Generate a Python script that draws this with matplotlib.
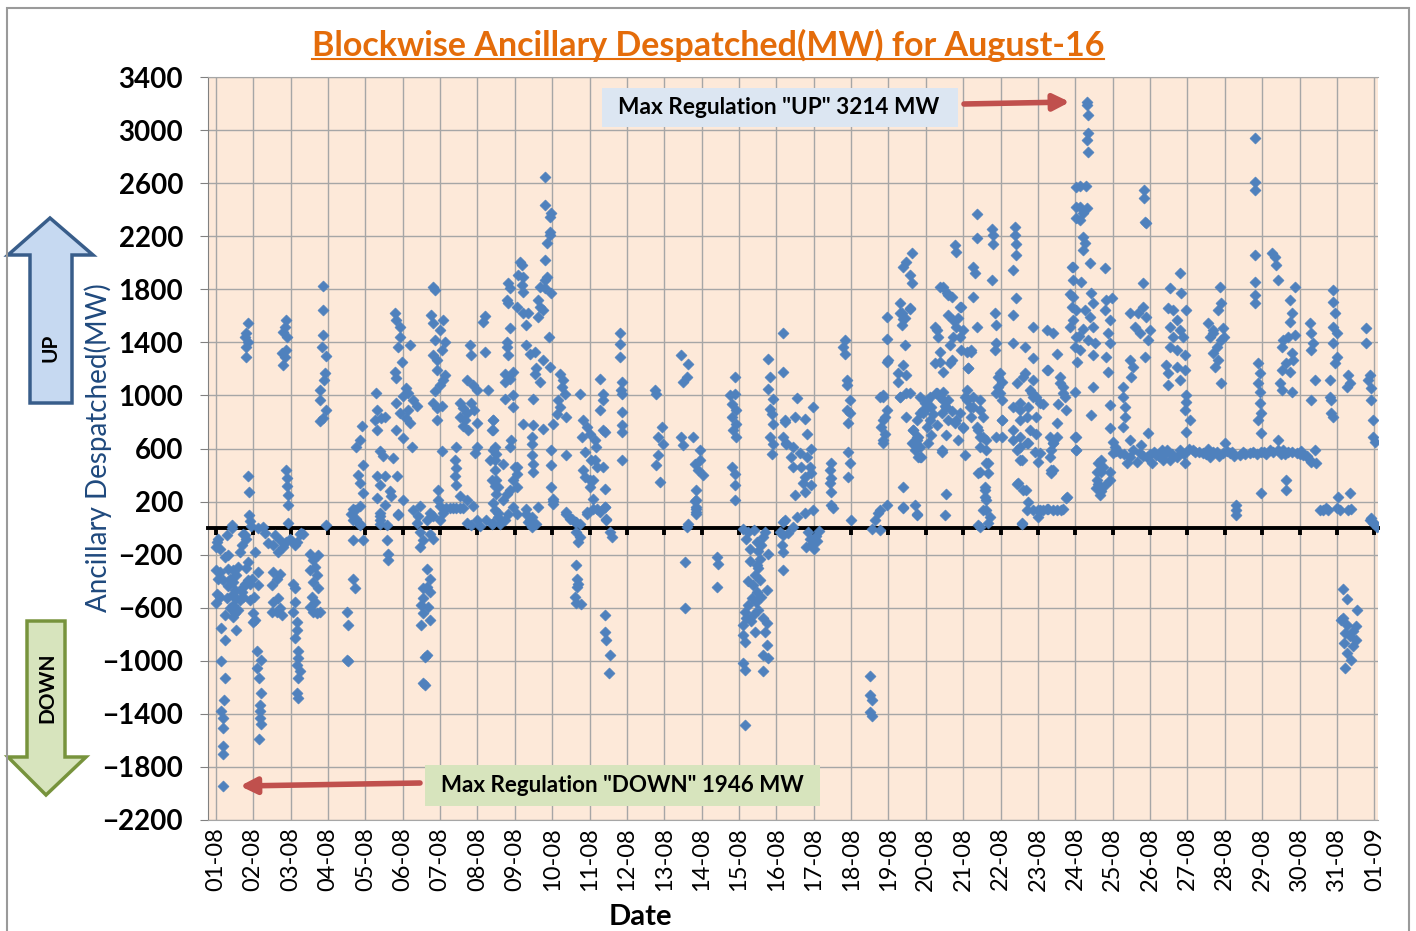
import numpy as np
import matplotlib.pyplot as plt
from matplotlib.patches import Polygon, Rectangle
from matplotlib.lines import Line2D
from matplotlib.transforms import IdentityTransform

plt.rcParams['font.family'] = ['Lato', 'DejaVu Sans']

# (position in days from 01-08, despatched MW)
aug01_07 = [
    (0.02, -105), (0.0, -143), (0.06, -80), (0.29, -55), (0.42, 20), (0.24, -218), (0.73, -43), (0.69, -130),
    (0.64, -180), (0.82, -80), (0.0, -318), (0.11, -330), (0.33, -305), (0.46, -318), (0.55, -355), (0.60, -293),
    (0.06, -380), (0.20, -393), (0.38, -380), (0.46, -405), (0.73, -443), (0.78, -418), (0.69, -480), (0.87, -393),
    (0.91, -418), (0.96, -380), (0.02, -493), (0.11, -518), (0.0, -568), (0.29, -530), (0.42, -505), (0.55, -530),
    (0.46, -580), (0.64, -543), (0.73, -518), (0.91, -543), (0.24, -655), (0.51, -643), (0.46, -668), (0.55, -768),
    (0.15, -755), (0.24, -843), (0.15, -1005), (0.24, -1130), (0.21, -1293), (0.15, -1380), (0.18, -1430),
    (0.20, -1505), (0.20, -1643), (0.20, -1705), (0.20, -1946), (0.33, -440), (0.38, -600), (0.51, -470),
    (0.60, -620), (0.82, -300), (0.87, -255), (0.11, -160), (0.33, -200),
    (0.87, 1544), (0.82, 1469), (0.78, 1444), (0.87, 1406), (0.82, 1368), (0.80, 1293), (0.87, 389), (0.89, 271),
    (0.89, 100), (0.91, 50), (0.95, 13), (0.42, 0), (0.78, -50),
    (1.0, -643), (1.04, -693), (1.0, -705), (1.11, -930), (1.22, -993), (1.11, -1055), (1.16, -1130), (1.22, -1243),
    (1.18, -1330), (1.18, -1380), (1.18, -1430), (1.20, -1480), (1.16, -1593), (1.54, -330), (1.63, -380),
    (1.71, -343), (1.49, -430), (1.67, -530), (1.54, -555), (1.71, -605), (1.63, -630), (1.76, -655), (1.49, -630),
    (1.58, -55), (1.71, -93), (1.89, -105), (1.54, -130), (1.67, -180), (1.80, -143), (1.98, -80), (2.11, -130),
    (2.25, -43), (2.16, -105), (1.04, -180), (1.13, -330), (1.13, -430), (1.02, -520), (1.31, -40), (1.40, -110),
    (1.87, 1569), (1.85, 1519), (1.80, 1481), (1.91, 1444), (1.78, 1318), (1.85, 1293), (1.80, 1230), (1.87, 1343),
    (1.89, 439), (1.91, 377), (1.91, 314), (1.94, 251), (1.94, 176), (1.94, 38), (1.13, 0), (1.27, 10), (2.29, -38),
    (2.07, -418), (2.11, -455), (2.11, -555), (2.07, -630), (2.16, -705), (2.16, -768), (2.11, -830), (2.20, -930),
    (2.20, -980), (2.16, -1030), (2.25, -1080), (2.20, -1130), (2.16, -1243), (2.20, -1280), (2.52, -193),
    (2.61, -243), (2.74, -205), (2.65, -293), (2.52, -318), (2.70, -355), (2.61, -405), (2.74, -455), (2.56, -518),
    (2.65, -555), (2.52, -593), (2.61, -630), (2.70, -643), (2.79, -630), (2.34, -43), (2.96, 25),
    (2.87, 1825), (2.86, 1645), (2.86, 1456), (2.83, 1368), (2.94, 1298), (2.92, 1168), (2.89, 1117), (2.80, 1042),
    (2.78, 967), (2.96, 891), (2.86, 829), (2.78, 804),
    (3.50, -630), (3.54, -730), (3.54, -1005), (3.50, -993), (3.68, -380), (3.72, -455), (3.68, -93), (3.94, -93),
    (3.68, 145), (3.76, 70), (3.85, 33), (3.63, 108), (3.90, 766), (3.85, 665), (3.76, 615), (3.94, 477),
    (3.81, 402), (3.85, 339), (3.94, 264), (3.72, 138), (3.85, 163), (3.68, 63), (3.85, 25),
    (4.57, -93), (4.61, -193), (4.61, -243), (4.39, 95), (4.39, 33), (4.88, 108), (4.28, 1017), (4.30, 891),
    (4.26, 816), (4.30, 741), (4.43, 829), (4.52, 841), (4.39, 578), (4.48, 540), (4.75, 527), (4.30, 389),
    (4.52, 389), (4.39, 326), (4.66, 276), (4.70, 239), (4.30, 226), (4.52, 176), (4.39, 113), (4.39, 63),
    (4.84, 389), (5.01, 213), (4.88, 100), (4.57, 25), (4.79, 1620), (4.83, 1569), (4.92, 1519), (4.92, 1444),
    (4.88, 1368), (4.97, 1255), (4.79, 1180), (4.82, 1130), (5.19, 1381), (5.10, 1055), (5.15, 1017), (5.01, 992),
    (5.28, 967), (5.37, 917), (5.15, 891), (4.83, 942), (4.92, 866), (5.10, 829), (5.19, 791), (4.83, 741),
    (5.01, 678), (5.24, 615),
    (5.28, 138), (5.46, 163), (5.41, 88), (5.64, 63), (5.73, 113), (5.37, 38), (5.82, 88), (5.46, -30), (5.55, -93),
    (5.73, -43), (5.82, -80), (5.46, -143), (5.64, -305), (5.73, -380), (5.64, -443), (5.55, -455), (5.73, -480),
    (5.55, -530), (5.50, -580), (5.68, -593), (5.55, -643), (5.73, -693), (5.50, -730), (5.59, -968), (5.59, -1180),
    (5.64, -955), (5.55, -1168),
    (5.82, 1820), (5.86, 1795), (5.77, 1607), (5.82, 1544), (6.08, 1569), (5.99, 1494), (5.86, 1419), (6.13, 1406),
    (6.04, 1343), (5.82, 1306), (5.91, 1268), (5.91, 1193), (6.13, 1155), (6.08, 1117), (5.99, 1080), (5.86, 1030),
    (5.82, 942), (6.04, 917), (5.91, 904), (5.91, 816), (6.04, 578), (5.95, 289), (5.95, 213), (5.99, 163),
    (6.17, 151), (6.35, 151), (6.53, 151), (6.71, 213), (6.89, 163), (5.99, 63), (6.08, 113), (6.26, 150),
    (6.44, 155), (6.62, 150), (6.44, 615), (6.40, 515), (6.42, 452), (6.40, 389), (6.44, 326), (6.53, 239),
    (6.80, 1381), (6.84, 1306), (6.71, 1117), (6.88, 1080), (6.98, 1042), (6.53, 942), (6.62, 904), (6.71, 866),
    (6.84, 942), (6.91, 891), (6.53, 841), (6.66, 816), (6.62, 766), (6.75, 741), (6.98, 791), (6.98, 615),
    (6.93, 565), (6.71, 38), (6.98, 63), (7.07, 13), (6.84, 25),
]

aug08_14 = [
    (7.20, 1595), (7.15, 1557), (7.20, 1331), (7.29, 1042), (7.42, 816), (7.38, 741), (7.42, 590), (7.33, 515),
    (7.47, 440), (7.38, 364), (7.47, 314), (7.42, 188), (7.42, 38), (7.24, 63), (7.56, 113),
    (7.82, 1844), (7.87, 1807), (7.78, 1718), (7.82, 1693), (7.87, 1505), (7.78, 1404), (7.78, 1366), (7.82, 1303),
    (7.73, 1165), (7.87, 1127), (7.96, 1177), (7.73, 1102), (7.73, 976), (7.96, 1001), (7.96, 913), (7.91, 662),
    (7.87, 611), (7.69, 486), (8.0, 460), (7.96, 360), (7.78, 259), (7.87, 284), (7.69, 209), (7.82, 108),
    (7.96, 159), (7.73, 58), (7.6, 33), (7.42, 813), (7.42, 737), (7.46, 611), (7.51, 561), (7.46, 511),
    (7.51, 360), (7.55, 309), (7.51, 259), (7.46, 133), (7.55, 83), (7.38, 33),
    (8.13, 2008), (8.18, 1983), (8.09, 1907), (8.22, 1894), (8.18, 1832), (8.22, 1781), (8.05, 1668), (8.22, 1618),
    (8.36, 1618), (8.31, 1530), (8.31, 1379), (8.40, 1316), (8.54, 1328), (8.58, 1203), (8.54, 1165), (8.67, 1102),
    (8.49, 976), (8.22, 787), (8.49, 775), (8.76, 750), (8.45, 687), (8.45, 637), (8.45, 548), (8.49, 486),
    (8.49, 423), (8.05, 460), (8.05, 410), (8.05, 309), (8.05, 108), (8.31, 108), (8.40, 58), (8.45, 8),
    (8.63, 159), (8.63, 1718), (8.67, 1668), (8.76, 1643), (8.63, 1593), (8.67, 1819), (8.80, 1807), (8.80, 2020),
    (8.85, 1894), (8.85, 2146), (8.94, 2234), (8.94, 2209), (8.98, 2373), (8.94, 2347), (8.80, 2435), (8.80, 2649),
    (8.98, 1769), (8.92, 1442), (8.76, 1266), (8.94, 1215), (8.80, 1869), (8.31, 145), (8.45, 83), (8.58, 33),
    (8.36, 45),
    (9.21, 1165), (9.30, 1115), (9.25, 1064), (9.34, 1014), (9.16, 964), (9.21, 913), (9.12, 863), (9.38, 838),
    (9.03, 787), (8.98, 586), (9.38, 548), (8.98, 473), (8.98, 309), (9.03, 221), (9.03, 184), (9.74, 1014),
    (9.83, 813), (9.92, 762), (9.79, 687), (10.0, 712), (9.87, 574), (9.83, 435), (9.87, 385), (10.0, 360),
    (10.0, 309), (10.05, 511), (10.1, 221), (10.19, 146), (9.38, 108), (9.47, 70), (9.61, 45), (9.74, 33),
    (9.92, 108), (9.65, -30), (9.74, -68), (9.70, -105), (9.65, -275), (9.67, -380), (9.70, -418), (9.67, -443),
    (9.61, -518), (9.65, -568), (9.76, -575), (9.03, 208), (9.38, 120), (9.52, 70), (9.65, 45), (9.92, 120),
    (10.1, 145), (10.28, 120), (10.41, 158), (10.45, 70),
    (10.41, -655), (10.41, -780), (10.44, -843), (10.54, -955), (10.53, -1093), (10.54, -30), (10.59, -68),
    (10.28, 1127), (10.36, 1014), (10.36, 964), (10.28, 888), (10.36, 737), (10.41, 725), (10.14, 662),
    (10.17, 611), (10.14, 511), (10.19, 460), (10.36, 460), (10.41, 297), (10.1, 360), (10.41, 159), (10.45, 58),
    (10.81, 1472), (10.81, 1391), (10.81, 1286), (10.86, 1102), (10.83, 1039), (10.86, 1014), (10.86, 876),
    (10.86, 775), (10.86, 725), (10.86, 511),
    (11.79, 1014), (11.75, 1039), (11.93, 762), (11.84, 687), (11.97, 637), (11.84, 548), (11.79, 473), (11.88, 347),
    (12.46, 1303), (12.64, 1240), (12.60, 1140), (12.51, 1102), (12.46, 687), (12.49, 624), (12.77, 687),
    (12.95, 586), (12.95, 511), (12.82, 486), (12.91, 435), (13.04, 398), (12.86, 284), (12.86, 209), (12.86, 146),
    (12.86, 108), (12.60, 8), (12.64, 33), (12.55, -255), (12.55, -605), (12.82, 208), (12.86, 158), (12.86, 120),
    (13.40, -218), (13.44, -268), (13.40, -443), (13.89, 1140), (13.76, 1001), (13.89, 1014), (13.80, 938),
    (13.93, 888), (13.80, 838), (13.93, 787), (13.84, 737), (13.93, 687), (13.80, 460), (13.89, 410), (13.89, 322),
    (13.89, 209),
]

aug15_21 = [
    (14.11, -5), (14.25, -30), (14.39, -18), (14.20, -80), (14.47, -105), (14.29, -155), (14.65, -68), (14.78, -193),
    (14.56, -230), (14.47, -280), (14.42, -355), (14.56, -393), (14.38, -430), (14.47, -480), (14.74, -468),
    (14.34, -530), (14.25, -580), (14.16, -630), (14.38, -655), (14.20, -680), (14.11, -730), (14.65, -680),
    (14.74, -718), (14.42, -780), (14.69, -780), (14.11, -805), (14.16, -855), (14.74, -880), (14.65, -955),
    (14.78, -980), (14.11, -1018), (14.16, -1068), (14.65, -1080), (14.16, -1485), (14.30, -250), (14.52, -300),
    (14.60, -520), (14.50, -620), (14.33, -700), (14.45, -560), (14.24, -400), (14.58, -130), (14.70, -30),
    (14.52, -170),
    (14.78, 1271), (14.83, 1140), (14.78, 1052), (14.91, 976), (14.83, 901), (14.87, 863), (14.91, 787),
    (14.83, 687), (14.91, 637), (14.87, 561), (15.18, 1472), (15.18, 1177), (15.23, 800), (15.18, 687),
    (15.27, 637), (15.18, 45), (15.18, -55), (15.14, -130), (15.18, -180), (15.18, -318), (15.09, -30),
    (15.85, -30), (15.9, -80), (15.95, -120), (16.0, -160), (16.05, -60), (16.1, -100), (16.15, -20), (15.8, -140),
    (15.54, 977), (15.23, 814), (15.49, 839), (15.76, 826), (15.81, 713), (15.27, 638), (15.45, 613), (15.40, 538),
    (15.63, 563), (15.81, 538), (15.94, 600), (15.98, 914), (15.67, 462), (15.89, 462), (15.45, 462), (15.76, 387),
    (15.94, 412), (15.72, 337), (15.94, 324), (15.76, 274), (15.49, 249), (15.98, 136), (15.76, 111), (15.54, 85),
    (15.23, 60), (15.45, 10), (15.31, -40),
    (16.83, 1417), (16.79, 1366), (16.83, 1316), (16.88, 1115), (16.88, 1078), (16.97, 965), (16.88, 889),
    (16.97, 864), (16.92, 789), (16.92, 575), (16.97, 487), (16.92, 387), (16.47, 487), (16.43, 437), (16.47, 374),
    (16.43, 337), (16.47, 274), (16.47, 173), (16.52, 148), (17.01, 60),
    (17.55, -3), (17.63, 60), (17.72, 111), (17.95, 173), (17.77, 136), (17.77, -15),
    (17.5, -1115), (17.5, -1260), (17.55, -1296), (17.5, -1387), (17.55, -1417),
    (17.95, 1593), (17.95, 1429), (17.96, 1253), (17.86, 1002), (17.95, 889), (17.81, 764), (17.90, 713),
    (17.86, 638), (17.77, 990), (17.86, 814), (17.86, 990), (17.9, 839), (17.86, 663), (17.99, 1267),
    (18.39, 1969), (18.62, 2070), (18.48, 2007), (18.57, 1907), (18.62, 1844), (18.30, 1693), (18.35, 1618),
    (18.57, 1655), (18.44, 1580), (18.35, 1530), (18.44, 1379), (18.39, 1228), (18.26, 1166), (18.48, 1153),
    (18.26, 1103), (18.30, 990), (18.57, 1015), (18.48, 839), (18.66, 739), (18.75, 688), (18.62, 638),
    (18.71, 588), (18.79, 538), (18.39, 311), (18.39, 148), (18.70, 173), (18.75, 98),
    (18.31, 1623), (18.39, 1573), (18.57, 1661), (18.31, 990), (18.48, 1015), (18.39, 160), (18.75, 110),
    (18.84, 990), (19.02, 965), (18.93, 889), (19.15, 914), (19.28, 1015), (19.37, 990), (19.46, 1027),
    (19.60, 965), (18.84, 864), (19.11, 814), (19.42, 864), (19.60, 814), (19.78, 789), (19.02, 764), (18.75, 663),
    (18.84, 613), (18.88, 538), (19.42, 575), (19.0, 900), (19.2, 860), (19.5, 920), (19.7, 880), (19.3, 780),
    (19.55, 700), (19.15, 700), (19.05, 640), (18.97, 940), (19.11, 990), (19.29, 1015), (19.46, 965),
    (19.55, 915), (18.93, 864), (18.75, 814), (18.66, 739), (18.80, 688), (18.66, 638), (18.84, 537),
    (19.42, 588), (19.55, 260), (19.51, 97),
    (19.24, 1517), (19.33, 1442), (19.46, 1819), (19.60, 1756), (19.69, 1743), (19.78, 2133), (19.82, 2082),
    (19.60, 1605), (19.73, 1567), (19.86, 1580), (19.95, 1668), (19.64, 1379), (19.37, 1329), (19.24, 1241),
    (19.46, 1178), (19.64, 1241), (19.82, 1517), (19.91, 1442), (19.95, 1341), (20.09, 1329), (20.13, 1203),
    (20.04, 990), (19.91, 864), (19.99, 751), (19.86, 663), (20.04, 550), (20.09, 1040),
    (19.38, 1820), (19.56, 1770), (19.91, 1669), (19.99, 1493), (19.29, 1493), (19.73, 1443), (20.22, 1342),
    (20.13, 1204), (19.38, 1254), (19.69, 1267), (19.82, 814), (20.0, 763), (20.09, 965), (20.27, 915),
    (20.45, 889), (20.4, 739), (20.54, 688), (20.45, 613), (20.62, 487), (20.45, 424), (20.58, 311), (20.58, 236),
    (20.62, 135), (20.71, 84), (20.40, 21), (20.89, 688), (20.94, 1141), (20.94, 1065), (20.89, 1015),
    (20.36, 2371), (20.36, 2183), (20.27, 1969), (20.31, 1919), (20.27, 1743), (20.36, 1517), (20.22, 1329),
    (20.18, 914), (20.27, 990), (20.44, 965), (20.22, 839), (20.53, 839), (20.36, 764), (20.44, 688), (20.62, 663),
    (20.62, 588), (20.66, 487), (20.66, 412), (20.40, 412), (20.58, 286), (20.62, 211), (20.53, 136), (20.66, 35),
    (20.44, 10), (20.76, 2258), (20.80, 2208), (20.80, 2145), (20.78, 1869), (20.85, 1618), (20.89, 1530),
    (20.89, 1392), (20.85, 1341), (20.98, 1166), (21.03, 1103), (20.98, 1015), (21.03, 965), (21.03, 814),
    (21.03, 688),
]

aug22_31 = [
    (21.38, 2271), (21.38, 2208), (21.41, 2145), (21.41, 2057), (21.34, 1944), (21.41, 1731), (21.34, 1605),
    (21.32, 1392), (21.65, 1367), (21.87, 1517), (21.87, 1279), (21.65, 1166), (21.43, 1090), (21.87, 1115),
    (21.83, 1015), (21.74, 914), (21.51, 889), (21.96, 990), (22.14, 939), (21.51, 814), (21.34, 663), (21.51, 613),
    (21.56, 512), (21.74, 638), (21.96, 713), (21.92, 575), (22.0, 500), (21.47, 337), (21.69, 286), (21.74, 198),
    (21.87, 136), (22.14, 136), (22.41, 136), (22.63, 136), (22.76, 224), (21.56, 35), (22.0, 85), (22.0, 140),
    (22.27, 145), (22.5, 140), (22.05, 130),
    (21.03, 814), (21.34, 915), (21.52, 940), (21.61, 1141), (21.78, 1040), (21.87, 990), (22.05, 940),
    (21.96, 839), (21.70, 839), (21.34, 739), (21.52, 688), (21.43, 588), (21.70, 638), (22.05, 563),
    (21.52, 512), (21.78, 739), (21.43, 336), (21.61, 286), (21.70, 135), (22.05, 135), (22.23, 147),
    (22.68, 147), (22.77, 236), (21.57, 34),
    (22.23, 1492), (22.41, 1467), (22.50, 1316), (22.27, 1191), (22.58, 1140), (22.67, 1065), (22.72, 990),
    (22.54, 939), (22.76, 889), (22.50, 789), (22.32, 688), (22.41, 638), (22.36, 588), (22.41, 437), (22.36, 412),
    (22.23, 1191), (22.59, 1090), (22.68, 1015), (22.41, 638), (22.32, 537), (22.50, 688), (23.03, 688),
    (23.03, 588), (22.36, 436),
    (22.90, 1969), (22.94, 1869), (22.85, 1768), (22.90, 1668), (22.94, 1567), (22.85, 1517), (22.99, 1366),
    (23.03, 2421), (23.03, 2572), (23.01, 2334),
    (23.30, 3214), (23.30, 3189), (23.34, 3114), (23.34, 2975), (23.30, 2925), (23.34, 2837), (23.12, 2578),
    (23.28, 2578), (23.12, 2423), (23.30, 2410), (23.21, 2372), (23.12, 2322), (23.21, 2196), (23.25, 2146),
    (23.21, 2096), (23.39, 1995), (23.79, 1958), (22.94, 1970), (22.94, 1744), (23.16, 1857), (23.43, 1769),
    (23.48, 1694), (23.39, 1593), (23.48, 1518), (23.25, 1643), (23.03, 1643), (23.03, 1442), (23.12, 1342),
    (23.83, 1719), (23.97, 1731), (23.79, 1643), (23.92, 1568), (23.88, 1468), (23.92, 1392), (23.83, 1292),
    (23.88, 1179), (23.52, 1392), (23.48, 1304), (23.48, 1066), (23.43, 852), (22.99, 1028), (22.99, 689),
    (23.03, 588), (23.92, 927), (23.92, 751), (24.01, 651), (24.01, 563), (23.61, 488), (23.70, 425), (23.57, 362),
    (23.79, 324), (23.66, 249), (23.92, 362), (23.92, 425), (23.70, 513), (23.55, 300), (23.62, 330), (23.68, 280),
    (23.58, 420), (23.75, 460), (23.1, 1450), (23.2, 1500), (23.35, 1420), (23.05, 1250),
    (24.19, 563), (24.46, 538), (24.73, 563), (24.91, 538), (24.37, 488), (24.64, 500), (25.04, 488), (24.06, 613),
    (24.46, 663), (24.28, 1066), (24.28, 990), (24.32, 915), (24.32, 839), (24.28, 764), (24.46, 1267),
    (24.55, 1216), (24.50, 1141), (24.46, 1618), (24.59, 1518), (24.68, 1618), (24.81, 1669), (24.73, 1468),
    (24.86, 1292), (24.81, 1845), (24.83, 2548), (24.83, 2485), (24.86, 2309), (24.90, 2297), (24.95, 1417),
    (24.90, 1593), (24.99, 1493), (24.95, 714), (24.77, 626),
    (25.53, 1807), (25.80, 1920), (25.84, 1769), (25.48, 1656), (25.62, 1643), (25.71, 1568), (25.97, 1643),
    (25.53, 1518), (25.80, 1493), (25.62, 1442), (25.89, 1442), (25.53, 1367), (25.71, 1342), (25.93, 1304),
    (25.44, 1229), (25.71, 1216), (25.48, 1166), (25.93, 1191), (25.80, 1116), (25.48, 1078), (25.97, 1003),
    (25.97, 952), (25.93, 890), (26.06, 814), (25.97, 726), (25.17, 550), (25.31, 588), (25.53, 513), (25.80, 588),
    (25.93, 488), (25.71, 538), (25.44, 563), (25.35, 513),
    (26.20, 576), (26.42, 563), (26.69, 576), (26.96, 563), (26.60, 538), (27.0, 638), (26.69, 1493), (26.82, 1643),
    (26.91, 1694), (26.87, 1820), (26.69, 1468), (26.60, 1442), (26.78, 1367), (26.91, 1417), (26.96, 1505),
    (26.69, 1317), (26.82, 1267), (26.73, 1216), (26.91, 1091), (26.56, 1543), (26.99, 1442),
    (27.13, 563), (27.40, 550), (27.67, 563), (27.98, 576), (27.31, 136), (27.31, 98), (27.31, 173), (27.80, 2938),
    (27.80, 2611), (27.80, 2548), (27.80, 2058), (27.80, 1857), (27.80, 1757), (27.80, 1694), (27.89, 1241),
    (27.94, 1166), (27.89, 1091), (27.94, 1028), (27.94, 940), (27.98, 865), (27.89, 814), (27.98, 714),
    (27.98, 261),
    (28.25, 2071), (28.34, 2046), (28.38, 1983), (28.43, 1870), (28.21, 588), (28.43, 588), (28.70, 576),
    (28.92, 563), (29.10, 550), (28.65, 362), (28.65, 286), (28.87, 1820), (28.74, 1719), (28.79, 1618),
    (28.74, 1556), (28.87, 1455), (28.70, 1442), (28.56, 1417), (28.52, 1367), (28.79, 1317), (28.83, 1267),
    (28.65, 1241), (28.74, 1179), (28.52, 1191), (28.47, 1091), (28.52, 1040), (28.79, 1028), (28.43, 663),
    (29.28, 1543), (29.32, 1468), (29.37, 1392), (29.32, 1342), (29.41, 1116), (29.32, 965), (29.41, 588),
    (29.45, 488), (29.90, 1794), (29.90, 1706), (29.94, 1618), (29.90, 1518), (29.99, 1468), (29.90, 1392),
    (29.99, 1292), (29.94, 1241), (29.81, 1116), (29.81, 990), (29.85, 965), (29.85, 864), (29.90, 839),
    (30.03, 236), (30.35, 261), (29.63, 136), (29.77, 136), (29.99, 148), (30.30, 136), (30.30, 1153),
    (30.35, 1091), (30.26, 1066), (30.79, 1505), (30.79, 1392), (30.88, 1153), (30.84, 1116), (30.92, 1053),
    (30.92, 965), (30.97, 814), (30.97, 689), (31.01, 651), (30.97, 35), (31.06, 10), (30.88, 60),
    (30.15, -457), (30.27, -532), (30.54, -615), (30.15, -678), (30.26, -728), (30.52, -740), (30.43, -778),
    (30.35, -816), (30.19, -866), (30.52, -841), (30.43, -891), (30.26, -941), (30.39, -991), (30.21, -1054),
    (30.12, -690), (30.21, -791), (29.54, 138), (29.72, 151), (30.08, 138), (30.39, 143), (30.92, 75), (31.0, 38),
]

# the flat ~550 MW band from 25-08 to 30-08
plateau = [
    (24.1, 580), (24.3, 560), (24.55, 590), (24.8, 545), (25.0, 560), (25.1, 575), (25.25, 540), (25.45, 590),
    (25.6, 560), (25.9, 555), (26.05, 600), (26.15, 590), (26.3, 575), (26.5, 560), (26.55, 600), (26.8, 570),
    (26.85, 545), (27.05, 580), (27.2, 570), (27.25, 545), (27.5, 575), (27.55, 560), (27.75, 570), (27.85, 555),
    (28.05, 575), (28.1, 560), (28.3, 575), (28.5, 560), (28.55, 590), (28.6, 555), (28.8, 570), (29.0, 560),
    (29.05, 580), (29.2, 545), (29.25, 520), (29.3, 495),
]

date_labels = ['%02d-08' % d for d in range(1, 32)] + ['01-09']
y_ticks = list(range(-2200, 3401, 400))

W, H = 1416, 931


def fx(x):
    return x / W


def fy(y):
    return 1 - y / H


pts = np.array(aug01_07 + aug08_14 + aug15_21 + aug22_31 + plateau, dtype=float)
day_pos, mw = pts[:, 0], pts[:, 1]

fig = plt.figure(figsize=(W / 100, H / 100), dpi=100)

ax = fig.add_axes([fx(208), fy(820), (1378 - 208) / W, (820 - 77) / H])
ax.set_facecolor('#FDE9D9')
ax.set_xlim(-0.21, 31.1)
ax.set_ylim(-2200, 3400)
ax.set_yticks(y_ticks)
ax.set_xticks(range(len(date_labels)))
ax.set_xticklabels(date_labels, rotation=90, fontsize=17)
ax.tick_params(axis='x', length=0, pad=5)
ax.tick_params(axis='y', length=6, color='#808080', pad=12, labelsize=20)
for lab in ax.get_yticklabels():
    lab.set_fontweight('bold')
ax.grid(True, color='#A6A6A6', lw=1)
ax.set_axisbelow(True)
ax.spines['left'].set_color('#808080')
ax.spines['bottom'].set_color('#A6A6A6')
ax.spines['top'].set_color('#A6A6A6')
ax.spines['right'].set_visible(False)

# zero line with day tick marks
ax2 = ax.twiny()
ax2.set_xlim(ax.get_xlim())
ax2.patch.set_visible(False)
for s in ['top', 'left', 'right']:
    ax2.spines[s].set_visible(False)
ax2.spines['bottom'].set_position(('data', 0))
ax2.spines['bottom'].set_linewidth(2.8)
ax2.spines['bottom'].set_color('black')
ax2.xaxis.set_ticks_position('bottom')
ax2.set_xticks(range(len(date_labels)))
ax2.tick_params(axis='x', length=5, width=2.8, color='black', labelbottom=False, labeltop=False,
                direction='out')

ax2.scatter(day_pos, mw, marker='D', s=32, color='#4F81BD', edgecolors='#4F81BD', linewidths=0.4, zorder=3)

# title with underline
t = fig.text(fx(708), fy(45), 'Blockwise Ancillary Despatched(MW) for August-16', color='#E46C0A',
             fontsize=24.5, fontweight='bold', ha='center', va='center')
fig.text(fx(98), fy(448), 'Ancillary Despatched(MW)', rotation=90, color='#1F497D', fontsize=20,
         ha='center', va='center')
fig.text(fx(640), fy(917), 'Date', fontsize=21, fontweight='bold', ha='center', va='center')

# UP / DOWN arrows on the left
up_arrow = [(50, 218), (93, 255), (72, 255), (72, 403), (30, 403), (30, 255), (8, 255)]
down_arrow = [(27, 621), (65, 621), (65, 757), (86, 757), (46, 795), (8, 757), (27, 757)]
fig.add_artist(Polygon([(fx(x), fy(y)) for x, y in up_arrow], closed=True, transform=fig.transFigure,
                       fc='#C6D9F1', ec='#385D8A', lw=2.5))
fig.add_artist(Polygon([(fx(x), fy(y)) for x, y in down_arrow], closed=True, transform=fig.transFigure,
                       fc='#D7E4BD', ec='#77933C', lw=2.5))
fig.text(fx(50), fy(348), 'UP', rotation=90, fontsize=15, fontweight='bold', ha='center', va='center')
fig.text(fx(47), fy(688), 'DOWN', rotation=90, fontsize=15, fontweight='bold', ha='center', va='center')

# max / min callouts
i_up = np.argmax(mw)
i_dn = np.argmin(mw)
fig.add_artist(Rectangle((fx(602), fy(127)), (958 - 602) / W, (127 - 88) / H, transform=fig.transFigure,
                         fc='#DCE6F2', ec='none'))
fig.text(fx(779), fy(108), 'Max Regulation "UP" %d MW' % mw[i_up], fontsize=16.3, fontweight='bold',
         ha='center', va='center')
fig.add_artist(Rectangle((fx(425), fy(806)), (820 - 425) / W, (806 - 765) / H, transform=fig.transFigure,
                         fc='#D7E4BD', ec='none'))
fig.text(fx(622), fy(785), 'Max Regulation "DOWN" %d MW' % abs(mw[i_dn]), fontsize=16.1, fontweight='bold',
         ha='center', va='center')
arrow = dict(arrowstyle='-|>', color='#C0504D', lw=4, mutation_scale=24, shrinkA=0, shrinkB=12)
ax2.annotate('', xy=(day_pos[i_up], mw[i_up]), xytext=(fx(964), fy(104)), textcoords='figure fraction',
             arrowprops=arrow)
ax2.annotate('', xy=(day_pos[i_dn], mw[i_dn]), xytext=(fx(420), fy(783)), textcoords='figure fraction',
             arrowprops=arrow)

# outer chart border
fig.add_artist(Rectangle((fx(7), fy(940)), (1409 - 7) / W, (940 - 8) / H, transform=fig.transFigure,
                         fill=False, ec='#9A9A9A', lw=1.5))

fig.canvas.draw()
bb = t.get_window_extent()
fig.add_artist(Line2D([bb.x0, bb.x1], [bb.y0 + 3, bb.y0 + 3], transform=IdentityTransform(),
                      color='#E46C0A', lw=1.5))

fig.savefig('out.png', dpi=100)
